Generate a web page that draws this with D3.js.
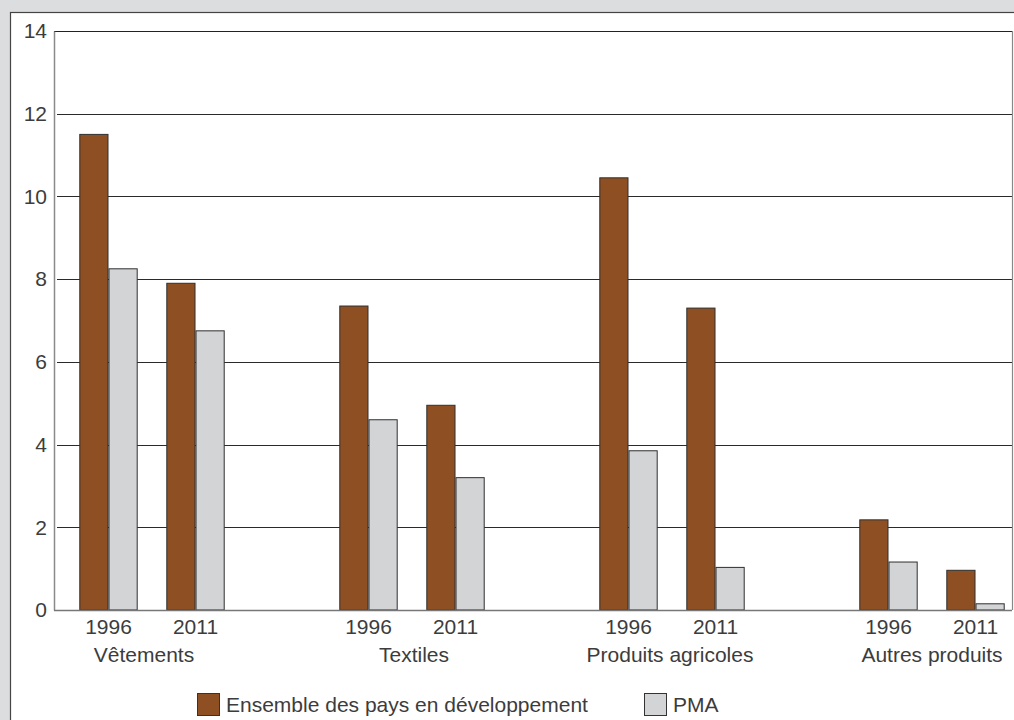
<!DOCTYPE html>
<html><head><meta charset="utf-8">
<script src="https://cdn.jsdelivr.net/npm/d3@7"></script>
<style>html,body{margin:0;padding:0;background:#dcdddf;overflow:hidden}svg{display:block}</style>
</head><body>
<svg id="c" width="1014" height="720"></svg>
<script>
const categories = ["Vêtements", "Textiles", "Produits agricoles", "Autres produits"];
const years = ["1996", "2011"];
const seriesNames = ["Ensemble des pays en développement", "PMA"];
// values[category][year] for each series
const devValues = [[11.5, 7.9], [7.35, 4.95], [10.45, 7.3], [2.18, 0.96]];
const pmaValues = [[8.25, 6.75], [4.6, 3.2], [3.85, 1.03], [1.16, 0.15]];
const yTicks = [0, 2, 4, 6, 8, 10, 12, 14];
const colors = ["#8e4f22", "#d3d4d6"];

(function () {
const svg = d3.select("#c");
const font = "'Liberation Sans', Arial, sans-serif";
const fs = 21;
const textColor = "#3c3c3c";
const catDx = [-8, 2, -2, 0];

// panel
svg.append("rect").attr("x", 10.5).attr("y", 12.5).attr("width", 1100).attr("height", 800)
  .attr("fill", "#fff").attr("stroke", "#444").attr("stroke-width", 1.2);

const pL = 54, pR = 1012, pT = 31, pB = 610;
const y = d3.scaleLinear().domain([0, 14]).range([pB, pT]);
const x0 = d3.scaleBand().domain(categories).range([22, 1062]);
const x1 = d3.scaleBand().domain(years).range([0, x0.bandwidth()]).paddingInner(0).paddingOuter(0.494);
const x2 = d3.scaleBand().domain(seriesNames).range([0, x1.bandwidth()]).paddingInner(0).paddingOuter(0.49);

// gridlines
svg.append("g").selectAll("line").data(yTicks.filter(d => d > 0 && d < 14)).join("line")
  .attr("x1", pL + 3).attr("x2", pR).attr("y1", d => Math.round(y(d)) + 0.5).attr("y2", d => Math.round(y(d)) + 0.5)
  .attr("stroke", "#2a2a2a").attr("stroke-width", 1);
// top border
svg.append("line").attr("x1", pL).attr("x2", pR).attr("y1", pT + 0.5).attr("y2", pT + 0.5)
  .attr("stroke", "#222").attr("stroke-width", 1.2);
// right border
svg.append("line").attr("x1", pR + 0.5).attr("x2", pR + 0.5).attr("y1", pT).attr("y2", pB)
  .attr("stroke", "#888").attr("stroke-width", 1.2);

// bars
const rows = [];
categories.forEach((c, i) => years.forEach((yr, j) => {
  rows.push({cat: c, year: yr, series: seriesNames[0], value: devValues[i][j], ci: 0});
  rows.push({cat: c, year: yr, series: seriesNames[1], value: pmaValues[i][j], ci: 1});
}));
svg.append("g").selectAll("rect").data(rows).join("rect")
  .attr("x", d => x0(d.cat) + x1(d.year) + x2(d.series) + 0.5)
  .attr("width", x2.bandwidth() - 1)
  .attr("y", d => y(d.value))
  .attr("height", d => pB - y(d.value))
  .attr("fill", d => colors[d.ci])
  .attr("stroke", "#2f2f2f").attr("stroke-width", 1);

// y axis
const yAxis = d3.axisLeft(y).tickValues(yTicks).tickSize(0).tickPadding(7).tickFormat(d3.format("d"));
const gy = svg.append("g").attr("transform", `translate(${pL},0)`).call(yAxis);
gy.select(".domain").attr("stroke", "#8a8a8a").attr("stroke-width", 1.5);
gy.selectAll("text").attr("font-family", font).attr("font-size", fs).attr("fill", textColor);

// bottom axis line
svg.append("line").attr("x1", pL).attr("x2", pR).attr("y1", pB + 0.5).attr("y2", pB + 0.5)
  .attr("stroke", "#777").attr("stroke-width", 1.5);

// year labels
const yl = [];
categories.forEach(c => years.forEach(yr => yl.push({cat: c, year: yr})));
svg.append("g").selectAll("text").data(yl).join("text")
  .attr("x", d => x0(d.cat) + x1(d.year) + x1.bandwidth() / 2)
  .attr("y", 634).attr("text-anchor", "middle")
  .attr("font-family", font).attr("font-size", fs).attr("fill", textColor)
  .text(d => d.year);
// category labels
svg.append("g").selectAll("text").data(categories).join("text")
  .attr("x", (d, i) => x0(d) + x0.bandwidth() / 2 + catDx[i])
  .attr("y", 662).attr("text-anchor", "middle")
  .attr("font-family", font).attr("font-size", fs).attr("fill", textColor)
  .text(d => d);

// legend
const legendX = [197, 644];
const lg = svg.append("g").selectAll("g").data(seriesNames).join("g")
  .attr("transform", (d, i) => `translate(${legendX[i]},693)`);
lg.append("rect").attr("x", 0.5).attr("y", 0.5).attr("width", 22).attr("height", 22)
  .attr("fill", (d, i) => colors[i]).attr("stroke", "#333").attr("stroke-width", 1);
lg.append("text").attr("x", 29).attr("y", 18.5)
  .attr("font-family", font).attr("font-size", fs).attr("fill", textColor)
  .text(d => d);
})();
</script>
</body></html>
